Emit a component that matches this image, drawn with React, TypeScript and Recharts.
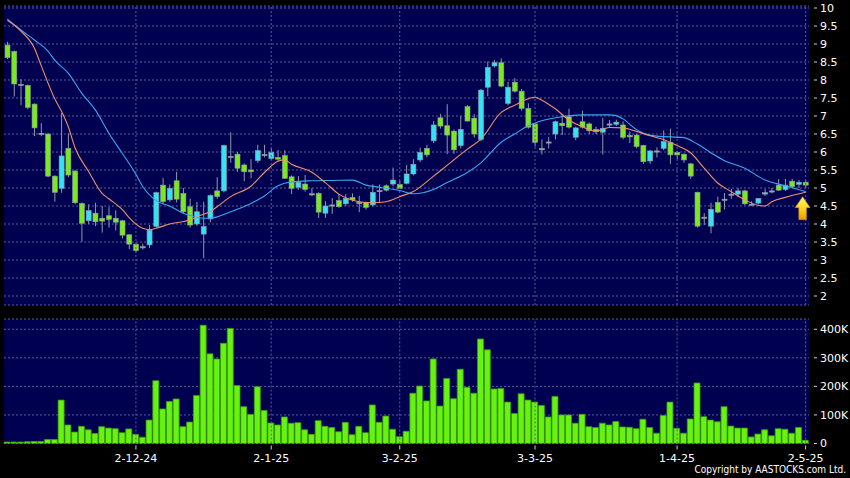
import React from 'react';
import { ComposedChart, Bar, Line, XAxis, YAxis, CartesianGrid, ReferenceLine, ReferenceDot } from 'recharts';

// ---- data ----
const opens = [
  8.97, 8.79, 7.88, 7.85, 7.33, 6.52, 6.50, 5.33, 4.99, 6.10, 5.47, 4.57, 4.09, 4.30, 4.16, 4.23, 4.16, 4.09, 3.70, 3.44,
  3.37, 3.42, 3.93, 5.08, 4.67, 5.20, 4.85, 4.48, 4.00, 3.72,
  4.14, 4.92, 4.92, 5.88, 5.94, 5.64, 5.50, 5.76, 5.93, 5.82, 5.85, 5.90, 5.31, 5.02, 5.11, 4.84, 4.85, 4.30, 4.50, 4.65,
  4.56, 4.74, 4.60, 4.60, 4.53, 4.93, 5.06, 5.11,
  5.10, 5.13, 5.39, 5.78, 6.10, 6.31, 6.95, 6.73, 6.58, 6.18, 7.26, 6.94, 6.35, 7.80, 8.39, 8.48, 7.35, 7.94, 7.69, 7.21,
  6.78, 6.10, 6.28, 6.50, 6.80, 6.98, 6.41, 6.84, 6.78, 6.63, 6.55,
  6.78, 6.77, 6.75, 6.46, 6.47, 6.18, 5.75, 6.03, 6.10, 6.27, 5.99, 5.94, 5.67, 4.88, 4.19, 3.94, 4.60, 4.69, 4.83, 4.83,
  4.92, 4.55, 4.58, 4.83, 4.92, 5.08, 4.96, 5.19, 5.10, 5.16,
];
const closes = [
  8.62, 7.89, 7.85, 7.24, 6.67, 6.50, 5.33, 4.88, 5.89, 5.36, 4.59, 4.02, 4.37, 4.06, 4.08, 4.13, 4.05, 3.69, 3.44, 3.26,
  3.37, 3.83, 4.87, 4.62, 4.99, 4.69, 4.34, 3.97, 4.34, 3.93,
  4.79, 4.76, 6.18, 5.86, 5.55, 5.45, 5.45, 6.04, 5.91, 5.99, 5.80, 5.27, 4.99, 5.16, 4.96, 4.81, 4.33, 4.50, 4.53, 4.48,
  4.71, 4.67, 4.56, 4.46, 4.88, 4.93, 4.94, 5.22,
  4.99, 5.39, 5.66, 5.99, 5.92, 6.75, 6.72, 6.47, 6.06, 6.63, 6.86, 6.50, 7.72, 8.35, 8.48, 7.83, 7.80, 7.69, 7.21, 6.69,
  6.27, 6.06, 6.28, 6.84, 6.73, 6.69, 6.67, 6.69, 6.59, 6.56, 6.66,
  6.78, 6.83, 6.41, 6.42, 6.15, 5.73, 6.03, 6.00, 6.29, 5.92, 5.92, 5.78, 5.33, 3.94, 4.19, 4.41, 4.33, 4.69, 4.83, 4.92,
  4.56, 4.55, 4.71, 4.87, 4.92, 4.94, 5.08, 5.04, 5.16, 5.08,
];
const highs = [
  9.06, 8.82, 8.02, 7.87, 7.35, 6.80, 6.52, 5.35, 7.08, 6.52, 5.50, 4.60, 4.55, 4.59, 4.50, 4.47, 4.38, 4.10, 3.72, 3.48,
  3.45, 3.97, 4.90, 5.28, 5.10, 5.45, 5.00, 4.70, 4.61, 4.62,
  4.82, 5.30, 6.20, 6.55, 6.00, 5.68, 5.80, 6.20, 6.20, 6.10, 6.05, 6.05, 5.35, 5.33, 5.36, 5.00, 4.88, 4.63, 4.72, 4.83,
  4.83, 4.85, 4.78, 4.62, 5.10, 5.10, 5.10, 5.57,
  5.20, 5.64, 5.80, 6.12, 6.20, 6.86, 7.06, 7.33, 6.62, 7.00, 7.30, 7.05, 7.75, 8.51, 8.56, 8.60, 7.95, 8.05, 7.75, 7.35,
  6.80, 6.35, 6.41, 6.87, 7.06, 7.20, 6.70, 7.15, 6.82, 6.70, 6.95,
  6.89, 6.90, 6.85, 6.57, 6.50, 6.20, 6.05, 6.13, 6.60, 6.65, 6.02, 5.96, 5.70, 4.90, 4.30, 4.59, 4.76, 4.86, 4.97, 5.00,
  4.95, 4.63, 4.72, 4.97, 5.00, 5.25, 5.25, 5.25, 5.22, 5.22,
];
const lows = [
  8.58, 7.54, 7.30, 7.19, 6.44, 6.44, 5.30, 4.62, 4.87, 5.30, 4.55, 3.51, 4.00, 3.94, 3.76, 3.90, 3.82, 3.60, 3.30, 3.22,
  3.29, 3.33, 3.90, 4.55, 4.62, 4.60, 4.30, 3.90, 3.95, 3.05,
  4.05, 4.70, 4.88, 5.70, 5.45, 5.19, 5.27, 5.70, 5.85, 5.78, 5.75, 5.25, 4.83, 4.95, 4.90, 4.78, 4.17, 4.17, 4.28, 4.45,
  4.50, 4.62, 4.33, 4.40, 4.48, 4.60, 4.90, 5.05,
  4.97, 5.10, 5.35, 5.72, 5.85, 6.25, 6.65, 5.94, 5.95, 6.10, 6.85, 6.40, 6.30, 7.55, 8.35, 7.80, 7.30, 7.65, 7.15, 6.65,
  6.15, 5.93, 6.10, 6.35, 6.47, 6.65, 6.33, 6.65, 6.50, 6.50, 5.93,
  6.70, 6.72, 6.35, 6.25, 6.10, 5.67, 5.67, 5.85, 6.05, 5.67, 5.80, 5.70, 5.25, 3.90, 3.97, 3.74, 4.30, 4.40, 4.70, 4.75,
  4.52, 4.50, 4.55, 4.78, 4.85, 4.92, 4.92, 5.00, 5.00, 5.00,
];
// volume in thousands of shares
const volumesK = [
  5, 5, 5, 6, 7, 7, 14, 14, 152, 65, 40, 60, 48, 35, 59, 54, 52, 38, 51, 32,
  22, 82, 220, 121, 147, 156, 59, 75, 168, 414, 314, 296, 351, 403,
  203, 129, 102, 199, 116, 72, 65, 93, 71, 73, 48, 32, 80, 60, 56, 41, 74, 31, 60, 38, 135, 74, 96,
  50, 24, 43, 176,
  201, 149, 296, 131, 228, 157, 260, 197, 176, 366, 328, 191, 193, 145, 105, 174, 152, 145, 133, 93,
  165, 100, 100, 71, 102, 59, 56, 71, 65, 77, 58, 57, 52, 85, 56, 36, 98, 145, 53, 36,
  86, 212, 94, 82, 76, 129, 61, 54, 54, 23, 33, 48, 27, 52, 50, 36, 56, 11,
];
// moving averages read at sample candles: [candle index, value]
const maFastPts = [
  [0, 9.66], [2, 9.36], [4, 8.88], [5, 8.40], [7, 7.48], [8, 7.13], [9, 6.70], [10, 6.12], [12, 5.46], [14, 4.85],
  [15, 4.70], [17, 4.40], [18, 4.18], [20, 3.88], [21, 3.84], [22, 3.88], [24, 4.00], [26, 4.07], [27, 4.11], [28, 4.20],
  [30, 4.35], [31, 4.48], [33, 4.76], [36, 5.05], [38, 5.43], [40, 5.74], [41, 5.78], [42, 5.66], [45, 5.44], [47, 5.15],
  [49, 4.83], [52, 4.62], [54, 4.59], [56, 4.62], [58, 4.76], [60, 4.90], [63, 5.33], [65, 5.63], [68, 6.08], [70, 6.36],
  [73, 7.10], [75, 7.30], [77, 7.48], [78, 7.52], [79, 7.44], [81, 7.20], [83, 6.89], [85, 6.70], [87, 6.58], [89, 6.68],
  [91, 6.67], [93, 6.57], [95, 6.45], [97, 6.35], [99, 6.18], [101, 5.98], [103, 5.55], [105, 5.14], [107, 4.90],
  [109, 4.67], [111, 4.52], [112, 4.50], [113, 4.62], [115, 4.74], [118, 4.88],
];
const maSlowPts = [
  [0, 9.69], [2, 9.39], [4, 9.11], [6, 8.80], [7, 8.55], [9, 8.19], [11, 7.63], [13, 7.17], [15, 6.52], [17, 5.96],
  [19, 5.38], [20, 5.04], [22, 4.65], [24, 4.50], [26, 4.30], [27, 4.24], [29, 4.16], [30, 4.16], [33, 4.34], [36, 4.57],
  [38, 4.78], [40, 5.06], [42, 5.17], [45, 5.20], [48, 5.21], [51, 5.22], [53, 5.08], [55, 5.02], [58, 4.93], [60, 4.84],
  [63, 4.96], [65, 5.15], [68, 5.43], [70, 5.70], [73, 6.27], [75, 6.50], [77, 6.73], [79, 6.87], [82, 6.98], [85, 7.03],
  [89, 7.03], [90, 7.01], [91, 6.92], [93, 6.62], [96, 6.44], [100, 6.40], [102, 6.22], [104, 5.98], [106, 5.76],
  [109, 5.55], [112, 5.22], [115, 5.06], [118, 4.90],
];
const dateTickIdx = [19, 39, 58, 78, 99, 118];
const dateTickLabels = ['2-12-24', '2-1-25', '3-2-25', '3-3-25', '1-4-25', '2-5-25'];
const priceTicks = [2, 2.5, 3, 3.5, 4, 4.5, 5, 5.5, 6, 6.5, 7, 7.5, 8, 8.5, 9, 9.5, 10];
const volTicks = [0, 100000, 200000, 300000, 400000];
const arrowMark = { i: 118, price: 4.76 };

// ---- table built from arrays ----
const data: any[] = opens.map((o, i) => ({
  i, o, h: highs[i], l: lows[i], c: closes[i], v: volumesK[i] * 1000, maF: null, maS: null,
}));
maFastPts.forEach(([i, v]) => { data[i].maF = v; });
maSlowPts.forEach(([i, v]) => { data[i].maS = v; });

// ---- styles ----
const NAVY = '#000050';
const GRID = '#5c5c92';
const CYAN = '#33e3f3';
const GREEN = '#7aea1f';
const EDGE = '#8d9aa6';
const FONT = 'DejaVu Sans, Verdana, sans-serif';

const Candle = (props: any) => {
  const { x, y, width, height, payload } = props;
  if (payload == null) return <g />;
  const { o, h, l, c } = payload;
  const top = Math.min(y, y + height);
  const hh = Math.abs(height);
  const cx = x + width / 2;
  const k = h > l ? hh / (h - l) : 0;
  const py = (v: number) => top + (h - v) * k;
  const bTop = py(Math.max(o, c));
  const bBot = py(Math.min(o, c));
  const doji = Math.abs(c - o) < 0.035;
  const fill = doji ? '#a2aab4' : c > o ? CYAN : GREEN;
  return (
    <g>
      <line x1={cx} x2={cx} y1={top} y2={top + hh} stroke={EDGE} strokeWidth={1} />
      <rect x={cx - 2.5} y={bTop} width={5} height={Math.max(bBot - bTop, 1.2)} fill={fill} stroke={EDGE} strokeWidth={0.6} />
    </g>
  );
};

const RightTick = (fmt: (v: number) => string) => (props: any) => {
  const { x, y, payload } = props;
  return (
    <g>
      <line x1={x + 5} x2={x + 8} y1={y} y2={y} stroke="#d0d0d0" strokeWidth={1} />
      <text x={x + 11} y={y} dy="0.36em" fill="#ffffff" fontSize={11} fontFamily={FONT}>{fmt(payload.value)}</text>
    </g>
  );
};

const DateTick = (props: any) => {
  const { x, y, payload } = props;
  const k = dateTickIdx.indexOf(payload.value);
  return (
    <g>
      <line x1={x} x2={x} y1={y + 2} y2={y + 6} stroke="#d0d0d0" strokeWidth={1} />
      <text x={x} y={y + 18} textAnchor="middle" fill="#ffffff" fontSize={11} fontFamily={FONT}>{k >= 0 ? dateTickLabels[k] : ''}</text>
    </g>
  );
};

const ArrowShape = (props: any) => {
  const { cx, cy } = props;
  const ax = cx - 3;
  const d = `M${ax},${cy} L${ax + 7.5},${cy + 11} L${ax + 3.8},${cy + 11} L${ax + 3.8},${cy + 23} L${ax - 3.8},${cy + 23} L${ax - 3.8},${cy + 11} L${ax - 7.5},${cy + 11} Z`;
  return (
    <g>
      <defs>
        <linearGradient id="arrowGrad" x1="0" y1="0" x2="0" y2="1">
          <stop offset="0%" stopColor="#fff27a" />
          <stop offset="55%" stopColor="#ffd21a" />
          <stop offset="100%" stopColor="#e99a00" />
        </linearGradient>
      </defs>
      <path d={d} fill="url(#arrowGrad)" stroke="#c98a00" strokeWidth={0.6} />
    </g>
  );
};

export default function App() {
  return (
    <div style={{ position: 'absolute', left: 0, top: 0, width: 850, height: 478, background: '#000000', overflow: 'hidden' }}>
      <div style={{ position: 'absolute', left: 0, top: 0 }}>
        <ComposedChart width={850} height={310} data={data} margin={{ top: 6, right: 0, bottom: 5, left: 4 }}>
          <CartesianGrid vertical={false} stroke={GRID} strokeDasharray="2 2" fill={NAVY} fillOpacity={1} />
          <XAxis dataKey="i" type="category" hide height={0} />
          <YAxis
            orientation="right"
            width={41}
            type="number"
            domain={[1.75, 10.0556]}
            ticks={priceTicks}
            allowDataOverflow
            axisLine={false}
            tickLine={false}
            tickSize={0}
            tickMargin={0}
            tick={RightTick((v) => String(v))}
            interval={0}
          />
          {dateTickIdx.map((t) => (
            <ReferenceLine key={t} x={t} stroke={GRID} strokeDasharray="2 2" ifOverflow="extendDomain" />
          ))}
          <Bar dataKey={(d: any) => [d.l, d.h]} barSize={5} shape={Candle} isAnimationActive={false} />
          <Line dataKey="maS" type="monotone" stroke="#3aa6f0" strokeWidth={1.1} dot={false} connectNulls isAnimationActive={false} />
          <Line dataKey="maF" type="monotone" stroke="#f0906a" strokeWidth={1.1} dot={false} connectNulls isAnimationActive={false} />
          <ReferenceDot x={arrowMark.i} y={arrowMark.price} shape={ArrowShape} ifOverflow="visible" />
        </ComposedChart>
      </div>
      <div style={{ position: 'absolute', left: 0, top: 310 }}>
        <ComposedChart width={850} height={168} data={data} margin={{ top: 9, right: 0, bottom: 4.5, left: 4 }}>
          <CartesianGrid vertical={false} stroke={GRID} strokeDasharray="2 2" fill={NAVY} fillOpacity={1} />
          <XAxis
            dataKey="i"
            type="category"
            ticks={dateTickIdx}
            interval={0}
            height={30}
            axisLine={false}
            tickLine={false}
            tickSize={0}
            tickMargin={0}
            tick={DateTick}
          />
          <YAxis
            orientation="right"
            width={41}
            type="number"
            domain={[0, 436000]}
            ticks={volTicks}
            allowDataOverflow
            axisLine={false}
            tickLine={false}
            tickSize={0}
            tickMargin={0}
            tick={RightTick((v) => (v === 0 ? '0' : `${v / 1000}K`))}
            interval={0}
          />
          {dateTickIdx.map((t) => (
            <ReferenceLine key={t} x={t} stroke={GRID} strokeDasharray="2 2" />
          ))}
          <Bar dataKey="v" barSize={6} fill="#66f312" stroke="#3f9a0a" strokeWidth={0.8} isAnimationActive={false} />
        </ComposedChart>
      </div>
      <svg style={{ position: 'absolute', left: 0, top: 440 }} width={850} height={38}>
        <text x={846} y={32.5} textAnchor="end" fill="#ffffff" fontSize={10} fontFamily="DejaVu Sans Condensed, DejaVu Sans, sans-serif">
          Copyright by AASTOCKS.com Ltd.
        </text>
      </svg>
    </div>
  );
}
